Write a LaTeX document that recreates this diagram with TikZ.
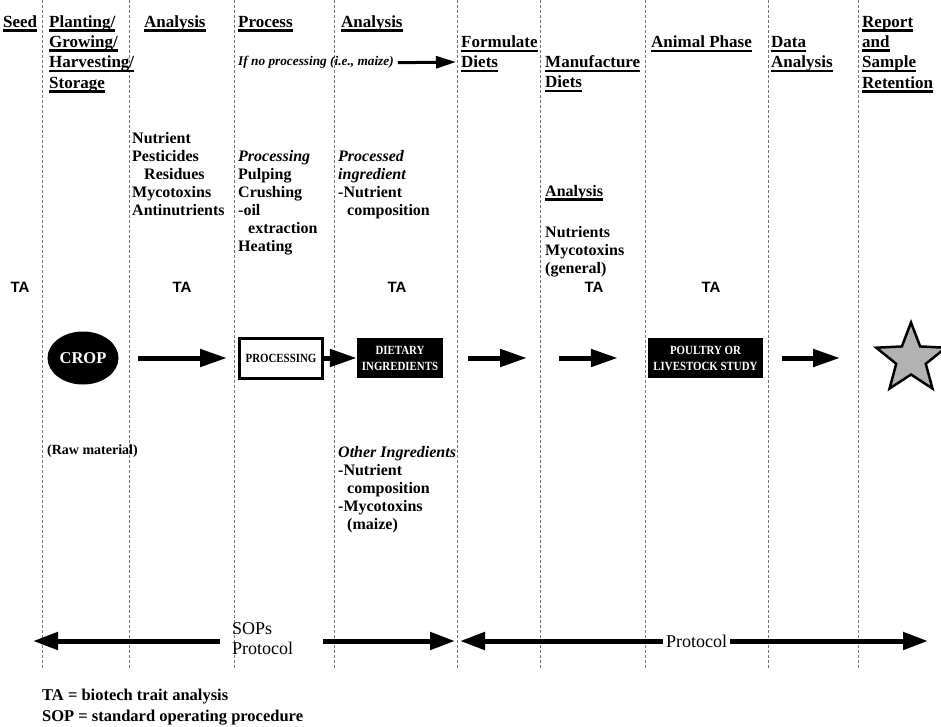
\documentclass[tikz,border=0pt]{standalone}
\usepackage{fontspec}
\setmainfont{Liberation Serif}
\newfontfamily\tasans{Liberation Sans}
\newfontfamily\boxfont[FakeStretch=0.87]{Liberation Serif}
\usetikzlibrary{arrows.meta,shapes.geometric}
\newcommand\myul[1]{\setbox0=\hbox{#1}\rlap{\rule[-4.5pt]{\wd0}{2.5pt}}\box0}
\newcommand\hstr{\rule{0pt}{14pt}}
\newcommand\bstr{\rule{0pt}{13pt}}
\begin{document}
\begin{tikzpicture}[x=1pt,y=-1pt,
  hd/.style={anchor=north west,inner sep=0pt,align=left,font=\fontsize{17}{20.3}\selectfont\bfseries},
  bd/.style={anchor=north west,inner sep=0pt,align=left,font=\fontsize{16}{18}\selectfont\bfseries},
  ta/.style={anchor=base,inner sep=0pt,font=\fontsize{15}{18}\selectfont\tasans\bfseries},
  vline/.style={draw=black!55,line width=0.8pt,dash pattern=on 3pt off 2pt},
  arr/.style={line width=5pt,-{Triangle[length=27pt,width=17pt]}},
  barr/.style={line width=5pt,-{Triangle[length=25pt,width=17pt]}},
  sarr/.style={line width=3pt,-{Triangle[length=20pt,width=12pt]}},
  boxtxt/.style={font=\fontsize{12.5}{16}\selectfont\boxfont\bfseries,align=center,inner sep=0pt}
]
\useasboundingbox (0,0) rectangle (941,727);
\fill[white] (0,0) rectangle (941,727);
% dashed column separators
\foreach \xx in {42,129,234,334,457,540,645,768,858}
  \draw[vline] (\xx,0) -- (\xx,670);
% headings
\node[hd] (hseed) at (3,13) {\hstr\myul{Seed}};
\node[hd] (hplant) at (49,13) {\hstr\myul{Planting/}\\\myul{Growing/}\\\myul{Harvesting/}\\\myul{Storage}};
\node[hd] (hana1) at (144,13) {\hstr\myul{Analysis}};
\node[hd] (hproc) at (238,13) {\hstr\myul{Process}};
\node[hd] (hana2) at (341,13) {\hstr\myul{Analysis}};
\node[hd] (hform) at (461,33.5) {\hstr\myul{Formulate}\\\myul{Diets}};
\node[hd] (hmanu) at (545,53.5) {\hstr\myul{Manufacture}\\\myul{Diets}};
\node[hd] (hanim) at (651,33.5) {\hstr\myul{Animal Phase}};
\node[hd] (hdata) at (771,33.5) {\hstr\myul{Data}\\\myul{Analysis}};
\node[hd] (hrep) at (862,13) {\hstr\myul{Report}\\\myul{and}\\\myul{Sample}\\\myul{Retention}};
% if no processing
\node[anchor=base west,inner sep=2pt,font=\fontsize{13.3}{15}\selectfont\bfseries\itshape] (ifno) at (236,66) {If no processing (i.e., maize)};
\coordinate (ifend) at (456,62);
\draw[sarr] (ifno.east) ++(2,0) coordinate (ifst) (ifst) -- (ifend);
% column texts
\node[bd] (tana1) at (132,130) {\bstr Nutrient\\Pesticides\\\hspace*{12pt}Residues\\Mycotoxins\\Antinutrients};
\node[bd] (tproc) at (238,148) {\bstr\textit{Processing}\\Pulping\\Crushing\\-oil\\\hspace*{10pt}extraction\\Heating};
\node[bd] (tana2) at (338,148) {\bstr\textit{Processed}\\\textit{ingredient}\\-Nutrient\\\hspace*{9pt}composition};
\node[bd] (tmanua) at (545,183) {\bstr\myul{Analysis}};
\node[bd] (tmanu) at (545,224) {\bstr Nutrients\\Mycotoxins\\(general)};
% TA labels
\node[ta] (ta1) at (20,292) {TA};
\node[ta] (ta2) at (182,292) {TA};
\node[ta] (ta3) at (397,292) {TA};
\node[ta] (ta4) at (594,292) {TA};
\node[ta] (ta5) at (711,292) {TA};
% flow row
\node[ellipse,fill=black,minimum width=71pt,minimum height=53pt,inner sep=0pt,text=white,font=\fontsize{16.5}{18}\selectfont\bfseries] (crop) at (83,358) {CROP};
\node[draw=black,line width=3pt,minimum width=83pt,minimum height=40pt,boxtxt] (procbox) at (281,358) {PROCESSING};
\node[fill=black,text=white,minimum width=86pt,minimum height=40pt,boxtxt] (diet) at (400,358) {DIETARY\\INGREDIENTS};
\node[fill=black,text=white,minimum width=115pt,minimum height=40pt,boxtxt] (poultry) at (705.5,358) {POULTRY OR\\LIVESTOCK STUDY};
\node[star,star points=5,star point ratio=2.35,minimum size=73pt,inner sep=0pt,draw=black,line width=2.5pt,fill=black!30] (star) at (911,359) {};
\coordinate (a3e) at (527,358);
\coordinate (a4s) at (559,358);
\coordinate (a5e) at (840,358);
\draw[arr,shorten <=19.5pt,shorten >=11pt] (crop.east) -- (procbox.west);
\draw[arr] (procbox.east) -- (diet.west);
\draw[arr,shorten <=25pt] (diet.east) -- (a3e);
\draw[arr,shorten >=30pt] (a4s) -- (poultry.west);
\draw[arr,shorten <=19pt] (poultry.east) -- (a5e);
% lower texts
\node[bd,font=\fontsize{14}{17}\selectfont\bfseries] (raw) at (47,441) {\bstr (Raw material)};
\node[bd] (other) at (338,444) {\bstr\textit{Other Ingredients}\\-Nutrient\\\hspace*{9pt}composition\\-Mycotoxins\\\hspace*{9pt}(maize)};
% bottom protocol arrows
\node[anchor=west,inner sep=0pt,align=left,font=\fontsize{18}{20}\selectfont] (sop) at (232,639) {SOPs\\Protocol};
\coordinate (b1a) at (220,641);
\coordinate (b1t) at (33,641);
\coordinate (b1b) at (323,641);
\coordinate (b1u) at (455,641);
\draw[barr] (b1a) -- (b1t);
\draw[barr] (b1b) -- (b1u);
\node[inner sep=3pt,font=\fontsize{18}{20}\selectfont] (prot) at (696.5,641) {Protocol};
\coordinate (b2l) at (460,641);
\coordinate (b2r) at (928,641);
\draw[barr] (prot.west) -- (b2l);
\draw[barr] (prot.east) -- (b2r);
% footnote
\node[bd,font=\fontsize{16.5}{21}\selectfont\bfseries] (foot) at (42,687) {\bstr TA = biotech trait analysis\\SOP = standard operating procedure};
\end{tikzpicture}
\end{document}
